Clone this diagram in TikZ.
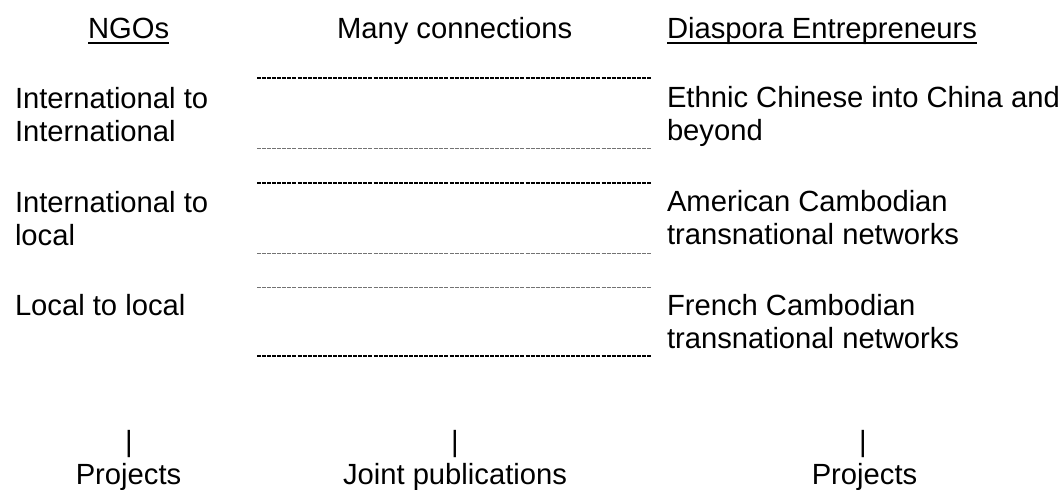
\documentclass[tikz,border=0pt]{standalone}
\usepackage{fontspec}
\setmainfont{Liberation Sans}
\usetikzlibrary{calc}
\begin{document}
\begin{tikzpicture}[x=0.75pt,y=-0.75pt,
  every node/.style={inner sep=0pt,outer sep=0pt,font=\fontsize{21.9}{24.6}\selectfont},
  col/.style={anchor=base west,align=left},
  head/.style={anchor=base west},
  foot/.style={anchor=base},
  thickdash/.style={line width=1.4pt,dash pattern=on 3pt off 0.8pt,black},
  thindash/.style={line width=0.6pt,dash pattern=on 3pt off 0.8pt,black!55},
  uline/.style={line width=1.4pt}]
\useasboundingbox (0,0) rectangle (1063,489);
% headers
\node[head] (h1) at (88,38) {NGOs};
\node[head] (h2) at (337,38) {Many connections};
\node[head] (h3) at (667,38) {Diaspora Entrepreneurs};
\draw[uline] ($(h1.base west)+(0,5)$) -- ($(h1.base east)+(0,5)$);
\draw[uline] ($(h3.base west)+(0,5)$) -- ($(h3.base east)+(0,5)$);
% left column (base = last line)
\node[col] (l1) at (15,141) {International to\\International};
\node[col] (l2) at (15,245) {International to\\local};
\node[col] (l3) at (15,315) {Local to local};
% right column
\node[col] (r1) at (667,140) {Ethnic Chinese into China and\\beyond};
\node[col] (r2) at (667,244) {American Cambodian\\transnational networks};
\node[col] (r3) at (667,348) {French Cambodian\\transnational networks};
% dashed connection lines
\coordinate (a1) at (257,78);  \coordinate (b1) at (652,78);
\coordinate (a2) at (257,148); \coordinate (b2) at (652,148);
\coordinate (a3) at (257,183); \coordinate (b3) at (652,183);
\coordinate (a4) at (257,253); \coordinate (b4) at (652,253);
\coordinate (a5) at (257,287); \coordinate (b5) at (652,287);
\coordinate (a6) at (257,356); \coordinate (b6) at (652,356);
\draw[thickdash] (a1) -- (b1);
\draw[thindash] (a2) -- (b2);
\draw[thickdash] (a3) -- (b3);
\draw[thindash] (a4) -- (b4);
\draw[thindash] (a5) -- (b5);
\draw[thickdash] (a6) -- (b6);
% bottom
\node[foot] (p1) at (129,451) {|};
\node[foot] (p2) at (455,451) {|};
\node[foot] (p3) at (863,451) {|};
\node[foot] (f1) at (128.5,484) {Projects};
\node[foot] (f2) at (455,484) {Joint publications};
\node[foot] (f3) at (864.5,484) {Projects};
\end{tikzpicture}
\end{document}
